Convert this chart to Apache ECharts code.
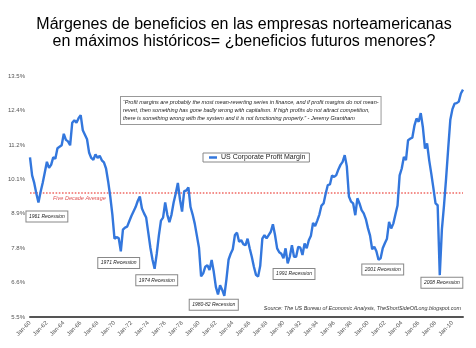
<!DOCTYPE html>
<html><head><meta charset="utf-8">
<script src="https://cdn.jsdelivr.net/npm/echarts@6/dist/echarts.min.js"></script>
<style>html,body{margin:0;padding:0;background:#fff}#c{width:476px;height:348px}</style>
</head><body><div id="c"></div>
<script>
const startYear = 1960;
const quarterMonths = ['Jan', 'Apr', 'Jul', 'Oct'];
// US corporate profit margin (%), quarterly from Jan-60
const profitMargin = [
  10.8, 10.2, 9.95, 9.6, 9.3, 9.65, 9.95, 10.3, 10.65, 10.45,
  10.55, 10.8, 10.75, 11.1, 11.15, 11.2, 11.58, 11.38, 11.33, 11.2,
  11.95, 12.03, 11.95, 12.1, 12.2, 11.7, 11.55, 11.4, 10.95, 10.78,
  10.72, 10.9, 10.78, 10.85, 10.7, 10.63, 10.43, 10.0, 9.5, 8.9,
  8.1, 8.15, 8.12, 7.68, 8.4, 8.47, 8.5, 8.68, 8.85, 9.0,
  9.15, 9.35, 9.5, 9.1, 8.94, 8.8, 8.3, 7.8, 7.4, 7.1,
  7.6, 8.2, 8.7, 8.8, 9.3, 8.9, 8.65, 8.9, 9.3, 9.6,
  9.95, 9.4, 9.0, 9.68, 9.7, 9.8, 9.15, 8.9, 8.6, 8.2,
  7.8, 6.85, 6.95, 7.17, 7.22, 7.06, 7.39, 7.0, 6.5, 6.25,
  6.55, 6.4, 6.2, 6.75, 7.4, 7.6, 7.75, 8.22, 8.3, 8.0,
  8.05, 7.92, 7.88, 8.1, 7.78, 7.5, 7.17, 6.9, 6.84, 7.2,
  8.1, 8.22, 8.11, 8.22, 8.33, 8.58, 8.22, 7.78, 7.65, 7.6,
  7.45, 7.78, 7.28, 7.5, 7.88, 7.5, 7.5, 7.83, 7.8, 7.56,
  7.94, 7.78, 8.05, 8.2, 8.62, 8.52, 8.7, 8.9, 9.2, 9.27,
  9.6, 9.88, 9.9, 10.2, 10.15, 10.21, 10.4, 10.55, 10.65, 10.87,
  10.5, 9.5, 9.33, 9.27, 8.88, 9.44, 9.27, 9.05, 8.94, 8.75,
  8.45, 8.2, 7.75, 7.83, 7.68, 7.4, 7.45, 7.78, 7.95, 8.1,
  8.66, 8.44, 8.6, 8.9, 9.2, 10.2, 10.43, 10.81, 10.71, 11.37,
  11.42, 11.45, 11.85, 12.09, 11.98, 12.27, 11.8, 11.09, 11.26, 10.7,
  10.25, 9.77, 9.27, 9.21, 6.89, 8.4, 9.2, 10.1, 11.1, 12.05,
  12.4, 12.58, 12.6, 12.65, 12.92, 13.05
];
const categories = profitMargin.map((_, i) =>
  quarterMonths[i % 4] + '-' + String((startYear + Math.floor(i / 4)) % 100).padStart(2, '0'));
const yMin = 5.5, yMax = 13.5, ySplits = 7;
const fiveDecadeAverage = 9.62;
const recessionNames = ['1961 Recession', '1971 Recession', '1974 Recession', '1980-82 Recession', '1991 Recession', '2001 Recession', '2008 Recession'];
const recessionAt = [8, 42, 60, 87, 125, 167, 195];
const recessionLevel = [8.84, 7.29, 6.72, 5.91, 6.93, 7.08, 6.64];

const titleText = 'Márgenes de beneficios en las empresas norteamericanas\nen máximos históricos= ¿beneficios futuros menores?';
const quoteText = '\u201CProfit margins are probably the most mean-reverting series in finance, and if profit margins do not mean-\nrevert, then something has gone badly wrong with capitalism. If high profits do not attract competition,\nthere is something wrong with the system and it is not functioning properly.\u201D - Jeremy Grantham';
const sourceText = 'Source: The US Bureau of Economic Analysis, TheShortSideOfLong.blogspot.com';

const chart = echarts.init(document.getElementById('c'), null, {renderer: 'canvas'});
const smallFont = 'Liberation Sans';
const avgColor = '#f06a64';
chart.setOption({
  backgroundColor: '#fff',
  animation: false,
  title: {
    text: titleText, left: 244, top: 16, padding: 0, textAlign: 'center',
    textStyle: {fontFamily: 'Liberation Sans', fontSize: 16, fontWeight: 'normal', color: '#000', lineHeight: 17}
  },
  legend: {
    left: 203, top: 153, padding: [1, 4, 1, 6],
    borderColor: '#888', borderWidth: 1,
    icon: 'rect', itemWidth: 8, itemHeight: 2.5, itemGap: 4,
    textStyle: {fontFamily: smallFont, fontSize: 7, color: '#222', padding: [0, 0, 0, -1]},
    data: ['US Corporate Profit Margin']
  },
  grid: {left: 30, right: 13, top: 76, bottom: 31},
  xAxis: {
    type: 'category', boundaryGap: false, data: categories,
    axisLine: {lineStyle: {color: '#555', width: 2}},
    axisTick: {show: false},
    axisLabel: {interval: 7, rotate: 45, fontSize: 6, color: '#555', margin: 5, fontFamily: smallFont},
    splitLine: {show: false}
  },
  yAxis: {
    type: 'value', min: yMin, max: yMax, interval: (yMax - yMin) / ySplits,
    axisLine: {show: false}, axisTick: {show: false}, splitLine: {show: false},
    axisLabel: {formatter: v => v.toFixed(1) + '%', fontSize: 6, color: '#555', margin: 5, fontFamily: smallFont}
  },
  graphic: [
    {
      type: 'text', left: 120, top: 96,
      style: {
        text: quoteText, font: 'italic 5.5px "Liberation Sans"', fill: '#222', lineHeight: 8.3,
        backgroundColor: '#fff', borderColor: '#999', borderWidth: 1, padding: [1, 2, 1, 2]
      }
    },
    {
      type: 'text', right: 15, top: 306,
      style: {text: sourceText, font: 'italic 5.4px "Liberation Sans"', fill: '#333'}
    }
  ],
  series: [{
    name: 'US Corporate Profit Margin', type: 'line', data: profitMargin,
    showSymbol: false, symbol: 'none', z: 3,
    lineStyle: {color: '#3377dd', width: 2.4}, itemStyle: {color: '#3377dd'},
    markLine: {
      silent: true, symbol: ['none', 'none'], z: 1,
      lineStyle: {color: avgColor, type: [1.6, 1.6], width: 1.5, opacity: 1},
      emphasis: {disabled: true},
      label: {
        show: true, position: 'insideStartBottom', distance: [23, 3],
        formatter: 'Five Decade Average', color: '#e05555', fontSize: 5.5, fontStyle: 'italic', fontFamily: smallFont
      },
      data: [{yAxis: fiveDecadeAverage, lineStyle: {color: avgColor, type: [1.6, 1.6], width: 1.5}}]
    },
    markPoint: {
      silent: true, symbol: 'rect', symbolSize: 0,
      label: {
        show: true, position: 'inside', formatter: p => p.name,
        fontSize: 5, fontStyle: 'italic', color: '#222', fontFamily: smallFont,
        backgroundColor: '#fff', borderColor: '#888', borderWidth: 1, padding: [2.5, 2.5]
      },
      data: recessionNames.map((n, k) => ({name: n, coord: [recessionAt[k], recessionLevel[k]]}))
    }
  }]
});
</script>
</body></html>
